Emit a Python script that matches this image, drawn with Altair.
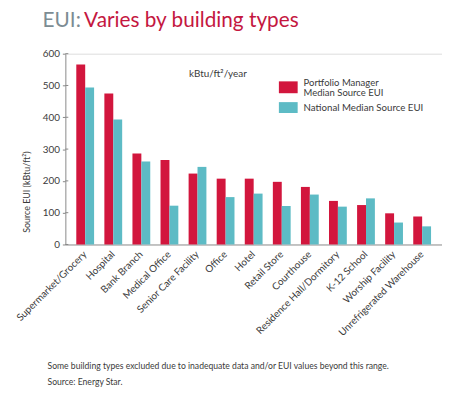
import altair as alt
import pandas as pd

categories = ["Supermarket/Grocery", "Hospital", "Bank Branch", "Medical Office",
              "Senior Care Facility", "Office", "Hotel", "Retail Store", "Courthouse",
              "Residence Hall/Dormitory", "K-12 School", "Worship Facility",
              "Unrefrigerated Warehouse"]
portfolio = [566, 475, 286, 266, 223, 207, 207, 197, 181, 137, 124, 98, 88]
national = [494, 393, 261, 122, 244, 149, 160, 121, 157, 119, 145, 69, 57]
series = ["Portfolio Manager Median Source EUI", "National Median Source EUI"]
colors = ["#D2163D", "#5DBBC5"]
y_ticks = [0, 100, 200, 300, 400, 500, 600]

FONT = "Lato"
TXT = "#3a3a3a"

rows = []
for c, p, n in zip(categories, portfolio, national):
    rows.append({"cat": c, "series": series[0], "v": p})
    rows.append({"cat": c, "series": series[1], "v": n})
df = pd.DataFrame(rows)

yscale = alt.Scale(domain=[0, 600], nice=False)
yaxis = alt.Axis(values=y_ticks, tickCount=7, tickSize=3, tickColor="#888888",
                 domainColor="#999999", labelFontSize=10, labelColor=TXT,
                 labelFont=FONT, labelPadding=3, grid=False,
                 labelOverlap=False, title=None)

bars = alt.Chart(df).mark_bar().encode(
    x=alt.X("cat:N", sort=categories, title=None,
            scale=alt.Scale(paddingInner=0.366, paddingOuter=0.39),
            axis=alt.Axis(labelAngle=-45, labelAlign="right", labelBaseline="middle",
                          labelPadding=8, ticks=False, labelFontSize=10,
                          labelColor=TXT, domainColor="#999999",
                          labelFont=FONT, labelLimit=300, labelOverlap=False)),
    xOffset=alt.XOffset("series:N", sort=series, scale=alt.Scale(paddingInner=0, paddingOuter=0)),
    y=alt.Y("v:Q", scale=yscale, title=None, axis=yaxis),
    color=alt.Color("series:N", sort=series,
                    scale=alt.Scale(domain=series, range=colors), legend=None),
)

tick_df = pd.DataFrame({"v": y_ticks})
inner_ticks = alt.Chart(tick_df).mark_rule(color="#888888").encode(
    y=alt.Y("v:Q", scale=yscale, title=None, axis=yaxis),
    x=alt.value(0), x2=alt.value(3),
)

one = pd.DataFrame({"a": [0]})

def txt(text, x, y, size, color, align="left", baseline="alphabetic", angle=0):
    return alt.Chart(one).mark_text(text=text, font=FONT, fontSize=size, color=color,
                                    align=align, baseline=baseline, angle=angle).encode(
        x=alt.value(x), y=alt.value(y))

def box(x1, x2, y1, y2, color):
    return alt.Chart(one).mark_rect(color=color).encode(
        x=alt.value(x1), x2=alt.value(x2), y=alt.value(y1), y2=alt.value(y2))

title1 = txt("EUI:", -23, -27, 21, "#7C8C93")
title2 = txt("Varies by building types", 19, -27, 21, "#C4173F")
ytitle = txt("Source EUI (kBtu/ft²)", -39, 140, 9, TXT, align="center",
             baseline="middle", angle=270)
unit = txt("kBtu/ft²/year", 125, 21, 10, TXT, baseline="middle")
leg_r = box(216, 235, 28, 40, colors[0])
leg_t = box(216, 235, 49, 60, colors[1])
leg1a = txt("Portfolio Manager", 241, 29.5, 9.6, TXT, baseline="middle")
leg1b = txt("Median Source EUI", 241, 40, 9.6, TXT, baseline="middle")
leg2 = txt("National Median Source EUI", 241, 55, 9.8, TXT, baseline="middle")
foot1 = txt("Some building types excluded due to inadequate data and/or EUI values beyond this range.",
            -18, 316, 8.7, TXT, baseline="middle")
foot2 = txt("Source: Energy Star.", -18, 332, 8.7, TXT, baseline="middle")

chart = alt.layer(bars, inner_ticks, title1, title2, ytitle, unit,
                  leg_r, leg_t, leg1a, leg1b, leg2, foot1, foot2).properties(
    width=381, height=193,
    autosize=alt.AutoSizeParams(type="none"),
    padding={"left": 58, "top": 44, "right": 0, "bottom": 146},
).configure_view(stroke=None).configure(background="white")

chart.save("out.html", embed_options={"renderer": "svg", "actions": False})
